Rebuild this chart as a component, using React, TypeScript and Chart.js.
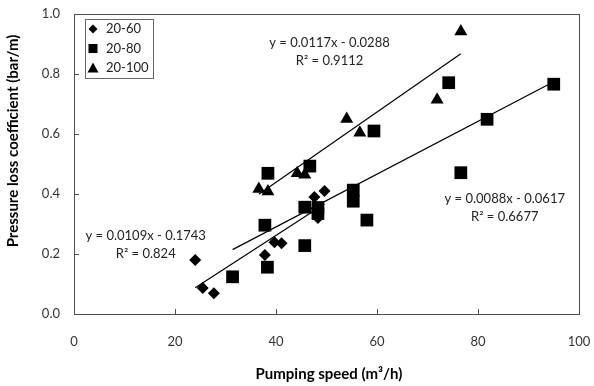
import React, { useEffect, useRef } from "react";
import { Chart, registerables } from "chart.js";

Chart.register(...registerables);

// ---- data ----
const seriesNames = ["20-60", "20-80", "20-100"];

const diamondX = [24.0, 25.5, 27.7, 37.8, 39.7, 41.1, 47.6, 49.6, 48.3];
const diamondY = [0.18, 0.087, 0.069, 0.197, 0.239, 0.236, 0.39, 0.41, 0.32];

const squareX = [31.4, 38.3, 37.8, 38.4, 45.7, 45.7, 46.7, 48.3, 48.3, 55.3, 55.3, 58.0, 59.4, 74.2, 76.6, 81.8, 95.0];
const squareY = [0.124, 0.156, 0.296, 0.469, 0.228, 0.356, 0.493, 0.355, 0.335, 0.413, 0.376, 0.313, 0.61, 0.771, 0.471, 0.649, 0.766];

const triangleX = [36.6, 38.4, 44.2, 45.7, 54.0, 56.6, 71.9, 76.6];
const triangleY = [0.417, 0.408, 0.469, 0.464, 0.65, 0.604, 0.714, 0.942];

const slopes = [0.0109, 0.0088, 0.0117];
const intercepts = [-0.1743, -0.0617, -0.0288];
const eqLabels = ["y = 0.0109x - 0.1743", "y = 0.0088x - 0.0617", "y = 0.0117x - 0.0288"];
const r2Labels = ["R\u00b2 = 0.824", "R\u00b2 = 0.6677", "R\u00b2 = 0.9112"];

const xTicks = [0, 20, 40, 60, 80, 100];
const yTicks = [0, 0.2, 0.4, 0.6, 0.8, 1.0];

const xTitle = "Pumping speed (m\u00b3/h)";
const yTitle = "Pressure loss coefficient (bar/m)";

// label anchor positions (in data units): [x, eqY, r2Y]
const labelAnchors = [
  [14.2, 0.26, 0.2],
  [85.3, 0.383, 0.323],
  [50.6, 0.903, 0.843],
];

const FONT = "Lato";
const pointStyles = ["rectRot", "rect", "triangle"];
const pointRadii = [6, 9, 7.5];

function toPts(xs: number[], ys: number[]) {
  return xs.map((x, i) => ({ x, y: ys[i] }));
}

function trend(xs: number[], k: number) {
  const lo = Math.min(...xs);
  const hi = Math.max(...xs);
  return [
    { x: lo, y: slopes[k] * lo + intercepts[k] },
    { x: hi, y: slopes[k] * hi + intercepts[k] },
  ];
}

const decor = {
  id: "decor",
  beforeDatasetsDraw(chart: any) {
    const { ctx, chartArea: a, scales } = chart;
    ctx.save();
    ctx.strokeStyle = "#4d4d4d";
    ctx.lineWidth = 1;
    xTicks.slice(1, -1).forEach((v) => {
      const px = Math.round(scales.x.getPixelForValue(v)) + 0.5;
      ctx.beginPath();
      ctx.moveTo(px, a.bottom);
      ctx.lineTo(px, a.bottom - 5);
      ctx.stroke();
    });
    yTicks.slice(1, -1).forEach((v) => {
      const py = Math.round(scales.y.getPixelForValue(v)) + 0.5;
      ctx.beginPath();
      ctx.moveTo(a.left, py);
      ctx.lineTo(a.left + 5, py);
      ctx.stroke();
    });
    ctx.strokeRect(Math.round(a.left) + 0.5, Math.round(a.top) + 0.5, Math.round(a.right - a.left), Math.round(a.bottom - a.top));
    ctx.restore();
  },
  afterDatasetsDraw(chart: any) {
    const { ctx, chartArea: a, scales } = chart;
    ctx.save();
    // trendline equations
    ctx.fillStyle = "#222";
    ctx.font = `13px ${FONT}`;
    ctx.textAlign = "center";
    ctx.textBaseline = "middle";
    labelAnchors.forEach((p, i) => {
      const px = scales.x.getPixelForValue(p[0]);
      ctx.fillText(eqLabels[i], px, scales.y.getPixelForValue(p[1]));
      ctx.fillText(r2Labels[i], px, scales.y.getPixelForValue(p[2]));
    });
    // legend box
    const lx = a.left + 11, ly = a.top + 5, lw = 68, lh = 59;
    ctx.fillStyle = "#fff";
    ctx.fillRect(lx, ly, lw, lh);
    ctx.strokeStyle = "#666";
    ctx.lineWidth = 1;
    ctx.strokeRect(lx + 0.5, ly + 0.5, lw, lh);
    ctx.textAlign = "left";
    ctx.font = `13px ${FONT}`;
    seriesNames.forEach((name, i) => {
      const cy = ly + 10 + i * 19.5;
      ctx.fillStyle = "#000";
      const r = 4.5;
      ctx.beginPath();
      const cx = lx + 8;
      if (i === 0) {
        ctx.moveTo(cx - r, cy);
        ctx.lineTo(cx, cy - r);
        ctx.lineTo(cx + r, cy);
        ctx.lineTo(cx, cy + r);
      } else if (i === 1) {
        ctx.rect(cx - 4.5, cy - 4.5, 9, 9);
      } else {
        ctx.moveTo(cx, cy - 5.5);
        ctx.lineTo(cx + 5.5, cy + 4.5);
        ctx.lineTo(cx - 5.5, cy + 4.5);
      }
      ctx.closePath();
      ctx.fill();
      ctx.fillStyle = "#222";
      ctx.fillText(name, lx + 21, cy);
    });
    ctx.restore();
  },
  afterDraw(chart: any) {
    const { ctx } = chart;
    ctx.save();
    ctx.fillStyle = "#000";
    ctx.font = `bold 15px ${FONT}`;
    ctx.textAlign = "center";
    ctx.textBaseline = "middle";
    ctx.fillText(xTitle, 329, 374);
    ctx.translate(13, 141);
    ctx.rotate(-Math.PI / 2);
    ctx.fillText(yTitle, 0, 0);
    ctx.restore();
  },
};

export default function App() {
  const ref = useRef<HTMLCanvasElement | null>(null);
  useEffect(() => {
    document.body.style.margin = "0";
    const canvas = ref.current;
    if (!canvas) return;
    const series = [toPts(diamondX, diamondY), toPts(squareX, squareY), toPts(triangleX, triangleY)];
    const xsAll = [diamondX, squareX, triangleX];
    const datasets: any[] = [];
    series.forEach((pts, i) => {
      datasets.push({
        label: seriesNames[i],
        data: pts,
        pointStyle: pointStyles[i],
        pointRadius: pointRadii[i],
        pointBackgroundColor: "#000",
        pointBorderColor: "#000",
        pointBorderWidth: 0,
        showLine: false,
      });
    });
    xsAll.forEach((xs, i) => {
      datasets.push({
        label: "trend " + seriesNames[i],
        data: trend(xs, i),
        showLine: true,
        pointRadius: 0,
        borderColor: "#000",
        borderWidth: 1.2,
        fill: false,
      });
    });
    const chart = new Chart(canvas, {
      type: "scatter",
      data: { datasets },
      options: {
        animation: false,
        responsive: false,
        events: [],
        layout: { padding: { left: 0, right: 15, top: 14, bottom: 0 } },
        plugins: { legend: { display: false }, tooltip: { enabled: false } },
        scales: {
          x: {
            type: "linear",
            min: 0,
            max: 100,
            afterFit: (s: any) => { s.height = 72; s.paddingLeft = 0; s.paddingRight = 0; },
            afterBuildTicks: (s: any) => { s.ticks = xTicks.map((v) => ({ value: v })); },
            grid: { display: false, drawTicks: false },
            border: { display: false },
            ticks: { padding: 20, color: "#333", font: { family: FONT, size: 13 }, callback: (v: any) => String(v) },
          },
          y: {
            type: "linear",
            min: 0,
            max: 1,
            afterFit: (s: any) => { s.width = 74; s.paddingTop = 0; s.paddingBottom = 0; },
            afterBuildTicks: (s: any) => { s.ticks = yTicks.map((v) => ({ value: v })); },
            grid: { display: false, drawTicks: false },
            border: { display: false },
            ticks: { padding: 14, color: "#333", font: { family: FONT, size: 13 }, callback: (v: any) => Number(v).toFixed(1) },
          },
        },
      },
      plugins: [decor],
    });
    return () => chart.destroy();
  }, []);
  return (
    <div style={{ width: 594, height: 386 }}>
      <canvas ref={ref} width={594} height={386} />
    </div>
  );
}
